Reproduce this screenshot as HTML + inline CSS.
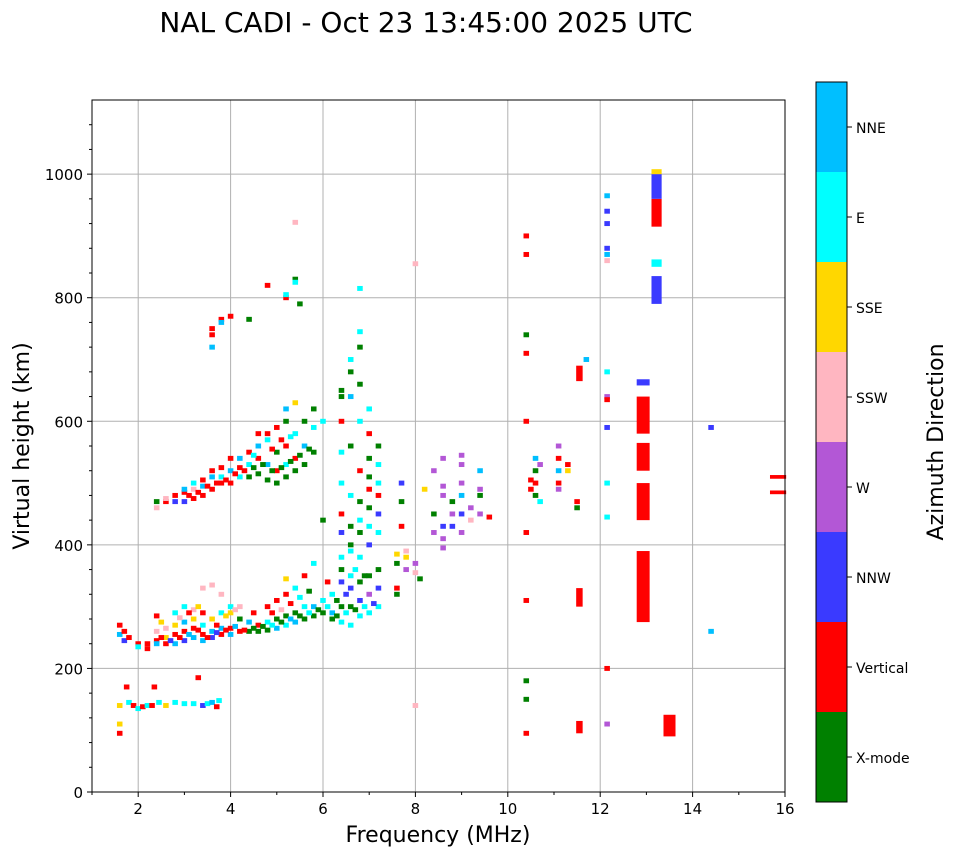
<!DOCTYPE html>
<html><head><meta charset="utf-8">
<style>
html,body{margin:0;padding:0;background:#fff;}
svg text{font-family:"DejaVu Sans","Liberation Sans",sans-serif;fill:#000;}
</style></head>
<body>
<svg id="chart" width="958" height="857" xmlns="http://www.w3.org/2000/svg">
<text x="426" y="32" font-size="28" text-anchor="middle">NAL CADI - Oct 23 13:45:00 2025 UTC</text>
<g id="grid"></g>
<g id="marks"></g>
<rect x="92" y="100" width="693" height="692" fill="none" stroke="#000" stroke-width="1"/>
<g id="axes"></g>
<text x="438" y="842" font-size="22" text-anchor="middle">Frequency (MHz)</text>
<text transform="translate(29,446) rotate(-90)" font-size="22" text-anchor="middle">Virtual height (km)</text>
<g id="cbar"></g>
<text transform="translate(943,442) rotate(-90)" font-size="22" text-anchor="middle">Azimuth Direction</text>
</svg>
<script>
const dirLabels=["X-mode","Vertical","NNW","W","SSW","SSE","E","NNE"];
const dirColors=["#008000","#ff0000","#3a3aff","#b357d6","#ffb6c1","#ffd700","#00ffff","#00bfff"];
const xTicks=[2,4,6,8,10,12,14,16];
const yTicks=[0,200,400,600,800,1000];
// echoes: [frequency MHz, virtual height km, direction index]
const echoes=[
[1.6,140,5],[1.6,110,5],[1.6,95,1],[1.75,170,1],[1.8,145,6],[1.9,140,1],[2.0,135,6],[2.1,138,1],[2.2,140,6],[2.3,140,1],[2.35,170,1],[2.45,145,6],[2.6,140,5],[2.8,145,6],[3.0,143,6],[3.2,143,6],[3.3,185,1],[3.4,140,2],[3.5,143,6],[3.6,145,7],[3.7,138,1],[3.75,148,6],
[1.6,270,1],[1.6,255,7],[1.7,260,1],[1.7,245,2],[1.8,250,1],[2.0,240,1],[2.0,235,6],[2.2,240,1],[2.2,232,1],[2.4,245,1],[2.4,240,7],[2.4,260,4],[2.4,285,1],[2.6,240,1],[2.6,250,5],[2.6,265,4],[2.8,240,7],[2.8,255,1],[2.8,270,5],[2.8,290,6],[3.0,245,2],[3.0,260,1],[3.0,275,7],[3.0,300,6],[3.2,250,7],[3.2,265,1],[3.2,280,5],[3.2,295,4],[3.4,245,7],[3.4,255,1],[3.4,270,6],[3.4,290,1],[3.4,330,4],[3.6,250,2],[3.6,260,7],[3.6,280,5],[3.6,335,4],[3.8,255,1],[3.8,265,7],[3.8,290,6],[3.8,320,4],[4.0,255,7],[4.0,265,1],[4.0,290,5],[4.0,300,6],[4.2,260,1],[4.2,280,0],[4.2,300,4],[4.4,260,0],[4.4,275,7],[4.6,260,0],[4.6,270,1],[4.8,262,0],[4.8,275,6],[4.8,300,1],[5.0,265,7],[5.0,280,0],[5.0,310,1],[5.2,270,6],[5.2,285,0],[5.2,320,1],[5.2,345,5],[5.4,275,7],[5.4,290,0],[5.4,330,6],[5.6,280,0],[5.6,300,6],[5.6,350,1],[5.8,285,0],[5.8,300,7],[5.8,370,6],[6.0,290,0],[6.0,310,6],[6.2,290,7],[6.2,280,0],[6.2,320,6],[6.4,275,6],[6.4,300,0],[6.4,340,2],[6.4,360,0],[6.4,380,6],[6.6,270,6],[6.6,300,0],[6.6,330,2],[6.6,350,6],[6.6,400,0],[6.8,285,6],[6.8,310,2],[6.8,340,0],[6.8,380,6],[6.8,420,0],[7.0,290,6],[7.0,320,3],[7.0,350,0],[7.2,300,6],[7.2,330,2],[7.2,360,0],[7.6,320,0],[7.6,330,1],[7.6,370,0],[7.6,385,5],[7.8,360,3],[7.8,380,5],[7.8,390,4],[8.0,370,3],[8.0,355,4],[8.1,345,0],
[2.5,250,1],[2.7,245,2],[2.9,250,1],[3.1,255,7],[3.3,262,1],[3.5,250,1],[3.7,258,2],[3.9,262,1],[4.1,268,7],[4.3,262,1],[4.5,265,0],[4.7,268,0],[4.9,270,6],[5.1,275,0],[5.3,280,7],[5.5,285,0],[5.7,290,6],[5.9,295,0],[6.1,300,6],[6.3,285,0],[6.5,290,6],[6.7,295,0],[6.9,300,6],[7.1,305,2],[2.5,275,5],[2.9,282,4],[3.1,290,1],[3.3,300,5],[3.7,270,1],[3.9,285,5],[4.1,295,4],[4.5,290,1],[4.9,290,1],[5.1,295,4],[5.3,305,1],[5.5,315,6],[5.7,325,0],[6.1,340,1],[6.3,310,0],[6.5,320,2],[6.7,360,6],[6.9,350,0],
[2.4,470,0],[2.4,460,4],[2.6,470,1],[2.6,475,4],[2.8,480,1],[2.8,470,2],[3.0,485,1],[3.0,490,7],[3.0,470,2],[3.2,475,1],[3.2,490,4],[3.2,500,6],[3.4,480,1],[3.4,495,7],[3.4,505,1],[3.6,490,1],[3.6,510,7],[3.6,520,1],[3.8,500,1],[3.8,510,6],[3.8,525,1],[4.0,500,1],[4.0,520,7],[4.0,540,1],[4.2,510,6],[4.2,525,1],[4.2,540,7],[4.4,510,0],[4.4,530,6],[4.4,550,1],[4.6,515,0],[4.6,540,1],[4.6,560,7],[4.6,580,1],[4.8,505,0],[4.8,530,7],[4.8,570,6],[4.8,580,1],[5.0,500,0],[5.0,520,1],[5.0,550,0],[5.0,590,1],[5.2,510,0],[5.2,530,6],[5.2,560,1],[5.2,600,0],[5.2,620,7],[5.4,520,0],[5.4,540,1],[5.4,580,6],[5.4,630,5],[5.6,530,0],[5.6,560,7],[5.6,600,0],[5.8,550,0],[5.8,590,6],[5.8,620,0],[6.0,440,0],[6.0,600,6],
[3.1,480,1],[3.3,485,1],[3.5,495,1],[3.7,500,1],[3.9,505,1],[4.1,515,1],[4.3,520,1],[4.5,525,0],[4.7,530,0],[4.9,520,0],[5.1,525,0],[5.3,535,0],[5.5,545,0],[5.7,555,0],[4.5,545,6],[4.9,555,1],[5.1,570,1],[5.3,575,6],
[3.6,720,7],[3.6,740,1],[3.6,750,1],[3.8,765,1],[3.8,760,7],[4.0,770,1],[4.4,765,0],[4.8,820,1],[5.2,800,1],[5.2,805,6],[5.4,830,0],[5.4,825,6],[5.5,790,0],[5.4,922,4],[6.8,815,6],
[6.4,650,0],[6.4,640,0],[6.4,600,1],[6.4,550,6],[6.4,500,6],[6.4,450,1],[6.4,420,2],[6.6,700,6],[6.6,680,0],[6.6,640,7],[6.6,560,0],[6.6,480,6],[6.6,430,0],[6.6,390,6],[6.8,745,6],[6.8,720,0],[6.8,660,0],[6.8,600,6],[6.8,520,1],[6.8,470,0],[6.8,440,6],[7.0,620,6],[7.0,580,1],[7.0,540,0],[7.0,510,0],[7.0,490,1],[7.0,460,0],[7.0,430,6],[7.0,400,2],[7.2,560,0],[7.2,530,6],[7.2,500,6],[7.2,480,1],[7.2,450,2],[7.2,420,6],[7.7,500,2],[7.7,470,0],[7.7,430,1],[8.0,855,4],
[8.2,490,5],[8.4,450,0],[8.4,420,3],[8.4,520,3],[8.6,540,3],[8.6,495,3],[8.6,480,3],[8.6,430,2],[8.6,410,3],[8.6,395,3],[8.8,470,0],[8.8,450,3],[8.8,430,2],[9.0,545,3],[9.0,530,3],[9.0,500,3],[9.0,480,7],[9.0,450,2],[9.0,420,3],[9.2,440,4],[9.2,460,3],[9.4,520,7],[9.4,490,3],[9.4,480,0],[9.4,450,3],[9.6,445,1],[8.0,140,4],
[10.4,900,1],[10.4,870,1],[10.4,740,0],[10.4,710,1],[10.4,600,1],[10.6,540,7],[10.6,520,0],[10.6,500,1],[10.6,480,0],[10.5,490,1],[10.5,505,1],[10.7,530,3],[10.7,470,6],[10.4,420,1],[10.4,310,1],[10.4,180,0],[10.4,150,0],[10.4,95,1],
[11.1,560,3],[11.1,540,1],[11.1,520,7],[11.1,500,1],[11.1,490,3],[11.3,530,1],[11.3,520,5],[11.5,470,1],[11.5,460,0],
[12.15,965,7],[12.15,940,2],[12.15,920,2],[12.15,880,2],[12.15,870,7],[12.15,860,4],[12.15,680,6],[12.15,640,3],[12.15,635,1],[12.15,590,2],[12.15,500,6],[12.15,445,6],[12.15,200,1],[12.15,110,3],
[12.9,618,2],[12.9,555,2],[12.9,375,2],[12.9,330,0],[12.9,315,2],[14.4,590,2],[14.4,260,7],[11.7,700,7]
];
// blocks: [frequency MHz, bottom km, top km, direction index, width MHz]
const blocks=[
[11.55,665,690,1,0.14],[11.55,300,330,1,0.14],[11.55,95,115,1,0.14],
[12.93,275,390,1,0.28],[12.93,440,500,1,0.28],[12.93,520,565,1,0.28],[12.93,580,640,1,0.28],[12.93,658,668,2,0.28],
[13.22,790,835,2,0.22],[13.22,850,862,6,0.22],[13.22,915,960,1,0.22],[13.22,960,1000,2,0.22],[13.22,1000,1008,5,0.22],[13.5,90,125,1,0.26],
[15.85,507,513,1,0.35],[15.85,482,488,1,0.35]
];
const NS="http://www.w3.org/2000/svg";
const X0=92,X1=785,Y0=792,Y1=100,FMIN=1,FMAX=16,HMIN=0,HMAX=1120;
const xs=f=>X0+(f-FMIN)/(FMAX-FMIN)*(X1-X0);
const ys=h=>Y0-(h-HMIN)/(HMAX-HMIN)*(Y0-Y1);
function mk(tag,attrs,parent){const e=document.createElementNS(NS,tag);for(const k in attrs)e.setAttribute(k,attrs[k]);parent.appendChild(e);return e;}
const grid=document.getElementById('grid'),axes=document.getElementById('axes'),marks=document.getElementById('marks'),cbar=document.getElementById('cbar');
xTicks.forEach(t=>{
 const x=xs(t);
 const gl=mk('line',{x1:x,x2:x,y1:Y1,y2:Y0,stroke:'#b0b0b0','stroke-width':1},grid);
 
 
 mk('line',{x1:x,x2:x,y1:Y0,y2:Y0+5,stroke:'#000'},axes);
 const tl=mk('text',{x:x,y:Y0+22,'font-size':15,'text-anchor':'middle'},axes);
 tl.textContent=t;
 
 
});
for(let t=1;t<16;t+=2){const x=xs(t);mk('line',{x1:x,x2:x,y1:Y0,y2:Y0+3,stroke:'#000'},axes);}
yTicks.forEach(t=>{
 const y=ys(t);
 const gl=mk('line',{x1:X0,x2:X1,y1:y,y2:y,stroke:'#b0b0b0','stroke-width':1},grid);
 
 
 mk('line',{x1:X0-5,x2:X0,y1:y,y2:y,stroke:'#000'},axes);
 const tl=mk('text',{x:X0-9,y:y+6,'font-size':15,'text-anchor':'end'},axes);
 tl.textContent=t;
 
 
});
for(let t=40;t<1120;t+=40){if(t%200){const y=ys(t);mk('line',{x1:X0-3,x2:X0,y1:y,y2:y,stroke:'#000'},axes);}}
echoes.forEach(p=>{
 const w=xs(p[0]+0.12)-xs(p[0]);
 const r=mk('rect',{x:xs(p[0])-w/2,y:ys(p[1]+4),width:w,height:ys(0)-ys(8),fill:dirColors[p[2]]},marks);
 
 
});
blocks.forEach(b=>{
 const w=xs(b[0]+b[4])-xs(b[0]);
 const r=mk('rect',{x:xs(b[0])-w/2,y:ys(b[2]),width:w,height:ys(b[1])-ys(b[2]),fill:dirColors[b[3]]},marks);
 
 
});
const CX=816,CW=31,CT=82,CB=802,seg=(CB-CT)/dirLabels.length;
dirLabels.forEach((lab,i)=>{
 const yb=CB-(i+1)*seg;
 const r=mk('rect',{x:CX,y:yb,width:CW,height:seg,fill:dirColors[i]},cbar);
 
 
 mk('line',{x1:CX+CW,x2:CX+CW+5,y1:yb+seg/2,y2:yb+seg/2,stroke:'#000'},cbar);
 const t=mk('text',{x:CX+CW+9,y:yb+seg/2+6,'font-size':14},cbar);
 t.textContent=lab;
 
 
});
mk('rect',{x:CX,y:CT,width:CW,height:CB-CT,fill:'none',stroke:'#000'},cbar);
</script>
</body></html>
